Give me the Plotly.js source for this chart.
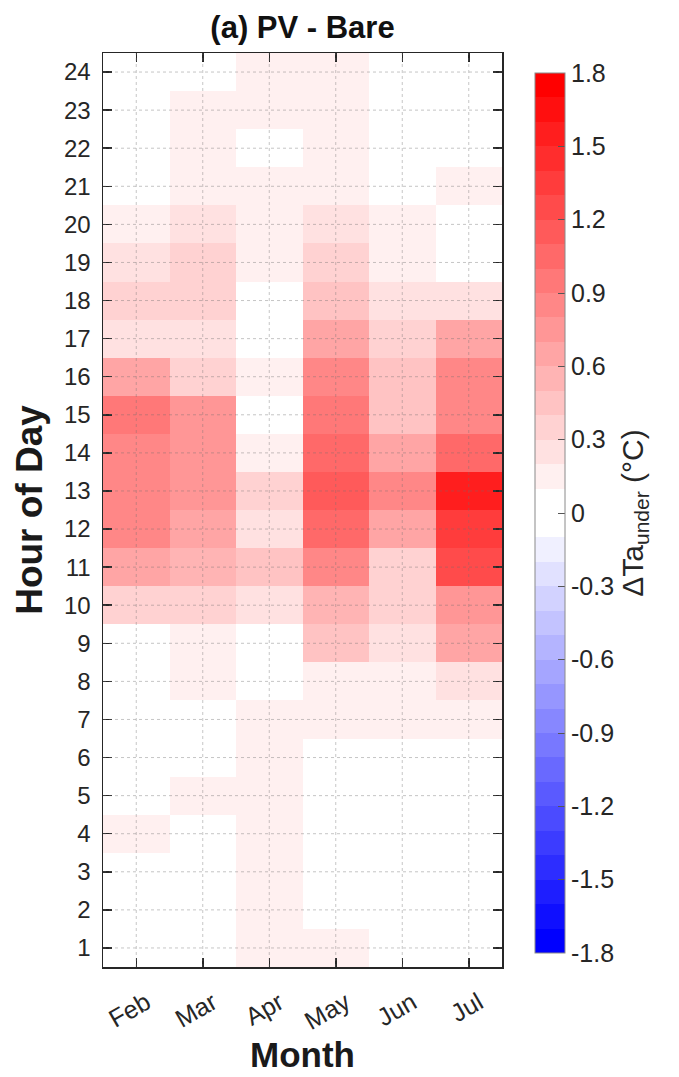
<!DOCTYPE html>
<html>
<head>
<meta charset="utf-8">
<script src="https://cdn.plot.ly/plotly-3.0.1.min.js"></script>
<style>html,body{margin:0;padding:0;background:#fff;}</style>
</head>
<body>
<div id="chart" style="width:679px;height:1077px;"></div>
<script>
// ---- data ----
const months = ['Feb', 'Mar', 'Apr', 'May', 'Jun', 'Jul'];
const hours = [1,2,3,4,5,6,7,8,9,10,11,12,13,14,15,16,17,18,19,20,21,22,23,24];
// ΔTa_under (°C) by hour 1..24 for each month
const feb = [0.05,0.05,0.05,0.15,0.05,0.05,0.05,0.05,0.05,0.35,0.65,0.85,0.85,0.85,0.95,0.65,0.25,0.35,0.25,0.15,0.05,0.05,0.05,0.05];
const mar = [0.05,0.05,0.05,0.05,0.15,0.05,0.05,0.15,0.15,0.35,0.55,0.65,0.75,0.75,0.75,0.35,0.25,0.35,0.35,0.25,0.15,0.15,0.15,0.05];
const apr = [0.15,0.15,0.15,0.15,0.15,0.15,0.15,0.05,0.05,0.25,0.45,0.25,0.35,0.15,0.05,0.15,0.05,0.05,0.15,0.15,0.15,0.05,0.15,0.15];
const may = [0.15,0.05,0.05,0.05,0.05,0.05,0.15,0.15,0.45,0.55,0.85,1.05,1.15,1.05,0.95,0.85,0.65,0.45,0.35,0.25,0.15,0.15,0.15,0.15];
const jun = [0.05,0.05,0.05,0.05,0.05,0.05,0.15,0.15,0.25,0.35,0.35,0.65,0.85,0.65,0.45,0.45,0.35,0.25,0.15,0.15,0.05,0.05,0.05,0.05];
const jul = [0.05,0.05,0.05,0.05,0.05,0.05,0.15,0.25,0.65,0.75,1.25,1.35,1.55,1.05,0.85,0.85,0.65,0.25,0.05,0.05,0.15,0.05,0.05,0.05];
const cbTickVals = [-1.8,-1.5,-1.2,-0.9,-0.6,-0.3,0,0.3,0.6,0.9,1.2,1.5,1.8];
const cbTickText = ['-1.8','-1.5','-1.2','-0.9','-0.6','-0.3','0','0.3','0.6','0.9','1.2','1.5','1.8'];

// ---- build ----
const series = [feb, mar, apr, may, jun, jul];
const xIdx = months.map((m, i) => i + 1);
// z[hourIndex][monthIndex]
const z = hours.map((h, hi) => series.map(s => s[hi]));

// discrete diverging colormap: 36 bands over [-1.8, 1.8]
const zmin = -1.8, zmax = 1.8, nb = 36;
const colorscale = [];
for (let b = 0; b < nb; b++) {
  let col;
  if (b < 18) {            // blue side, b=0 darkest
    const L = 17 - b;      // 0..17
    const g = Math.round(255 * (1 - L / 17));
    col = `rgb(${g},${g},255)`;
  } else {
    const L = b - 18;
    const g = Math.round(255 * (1 - L / 17));
    col = `rgb(255,${g},${g})`;
  }
  colorscale.push([b / nb, col]);
  colorscale.push([(b + 1) / nb, col]);
}

const FONT = '"Liberation Sans", Arial, Helvetica, sans-serif';
const BFONT = '"Liberation Sans", Arial, sans-serif';
const AX = '#262626';

const trace = {
  type: 'heatmap',
  x: xIdx,
  y: hours,
  z: z,
  zmin: zmin, zmax: zmax,
  colorscale: colorscale,
  xgap: 0, ygap: 0,
  colorbar: {
    x: 1.0827, xanchor: 'left', xref: 'paper', xpad: 0, ypad: 0,
    y: 0.4967, yanchor: 'middle',
    thickness: 30, thicknessmode: 'pixels',
    len: 880, lenmode: 'pixels',
    outlinecolor: '#8a8a8a', outlinewidth: 1,
    ticks: 'inside', ticklen: 7, tickwidth: 1, tickcolor: '#555',
    tickmode: 'array', tickvals: cbTickVals, ticktext: cbTickText,
    ticklabelstandoff: 11,
    tickfont: {family: FONT, size: 25, color: AX},
    title: {text: 'ΔTa<sub>under</sub> (°C)', side: 'right', font: {family: FONT, size: 30, color: AX}}
  },
  hoverinfo: 'x+y+z'
};

// dotted grid lines drawn above the cells, at the axis tick positions
const gridLine = {color: 'rgba(110,110,110,0.4)', width: 1, dash: 'dot'};
const shapes = [];
xIdx.forEach(v => shapes.push({type: 'line', xref: 'x', yref: 'y', x0: v, x1: v, y0: 0.5, y1: 24.5,
  layer: 'above', line: gridLine}));
hours.forEach(v => shapes.push({type: 'line', xref: 'x', yref: 'y', x0: 0.5, x1: 6.5, y0: v, y1: v,
  layer: 'above', line: gridLine}));

const layout = {
  width: 679, height: 1077,
  margin: {l: 103, r: 177, t: 53, b: 110, pad: 0},
  paper_bgcolor: '#fff', plot_bgcolor: '#fff',
  font: {family: FONT, color: AX},
  title: {text: '<b>(a) PV - Bare</b>', font: {family: BFONT, size: 31, color: '#111'},
          x: 0.5, xref: 'paper', xanchor: 'center', y: 1 - 27 / 1077, yref: 'container', yanchor: 'middle'},
  xaxis: {
    range: [0.5, 6.5], tickmode: 'array', tickvals: xIdx, ticktext: months,
    tickangle: -30, ticks: 'inside', ticklen: 9, tickwidth: 1.5, tickcolor: AX,
    ticklabelshift: 10, ticklabelstandoff: 10,
    showline: true, linecolor: AX, linewidth: 1.5, mirror: 'ticks',
    showgrid: false, zeroline: false,
    tickfont: {family: FONT, size: 25, color: AX},
    title: {text: '<b>Month</b>', font: {family: BFONT, size: 35, color: '#1a1a1a'}, standoff: 2}
  },
  yaxis: {
    range: [0.5, 24.5], tickmode: 'array', tickvals: hours,
    ticks: 'inside', ticklen: 9, tickwidth: 1.5, tickcolor: AX,
    ticklabelstandoff: 6,
    showline: true, linecolor: AX, linewidth: 1.5, mirror: 'ticks',
    showgrid: false, zeroline: false,
    tickfont: {family: FONT, size: 24, color: AX},
    title: {text: '<b>Hour of Day</b>', font: {family: BFONT, size: 37, color: '#1a1a1a'}, standoff: 10}
  },
  shapes: shapes
};

Plotly.newPlot('chart', [trace], layout, {displayModeBar: false, staticPlot: true});
</script>
</body>
</html>
